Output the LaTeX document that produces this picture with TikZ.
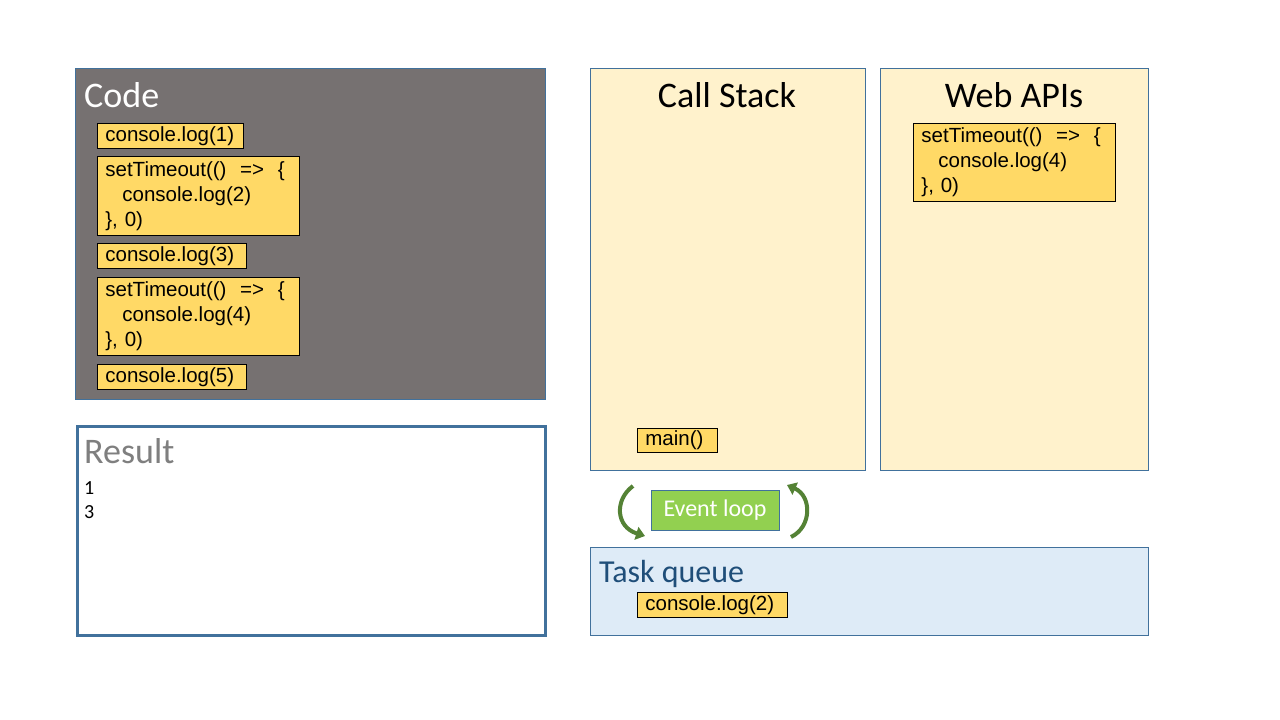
\documentclass[tikz,border=0pt]{standalone}
\usepackage{fontspec}
\setmainfont{Carlito}
\newfontfamily\codefont{Liberation Sans}
\usetikzlibrary{arrows.meta}
\definecolor{codegray}{HTML}{767171}
\definecolor{frameblue}{HTML}{41719C}
\definecolor{stackfill}{HTML}{FFF2CC}
\definecolor{queuefill}{HTML}{DEEBF7}
\definecolor{codeyellow}{HTML}{FFD966}
\definecolor{loopgreen}{HTML}{92D050}
\definecolor{arrowgreen}{HTML}{548235}
\definecolor{titleblue}{HTML}{1F4E79}
\definecolor{resultgray}{HTML}{7F7F7F}
\tikzset{
  panel/.style={draw=frameblue, line width=0.8pt, anchor=north west, inner sep=0pt},
  codebox/.style={draw=black, line width=0.8pt, fill=codeyellow, anchor=north west,
    inner xsep=8pt, inner ysep=0pt, align=left,
    font=\codefont\fontsize{20.5}{25}\selectfont},
  title/.style={inner sep=0pt, font=\fontsize{36}{40}\selectfont},
  loopbox/.style={draw=frameblue, line width=0.6pt, fill=loopgreen, text=white,
    minimum width=128pt, minimum height=40pt, inner sep=0pt, font=\fontsize{24}{28}\selectfont},
  looparrow/.style={draw=arrowgreen, line width=4pt, -{Triangle[length=9pt,width=13pt]}},
  resline/.style={inner sep=0pt, anchor=base west, font=\fontsize{20}{24}\selectfont}
}
\begin{document}
\begin{tikzpicture}[x=1pt,y=-1pt]
\useasboundingbox (0,0) rectangle (1280,720);
\fill[white] (0,0) rectangle (1280,720);

% panels
\node[panel, fill=codegray, minimum width=470pt, minimum height=331pt] (codepanel) at (75,68) {};
\node[panel, fill=white, draw=frameblue, line width=2.5pt, minimum width=468pt, minimum height=209pt] (resultpanel) at (76,425) {};
\node[panel, fill=stackfill, minimum width=275pt, minimum height=402pt] (stackpanel) at (590,68) {};
\node[panel, fill=stackfill, minimum width=268pt, minimum height=402pt] (webpanel) at (880,68) {};
\node[panel, fill=queuefill, minimum width=558pt, minimum height=88pt] (queuepanel) at (590,547) {};

% titles
\node[title, text=white, anchor=base west] (codetitle) at (84,107) {Code};
\node[title, anchor=base] (stacktitle) at (727,107) {Call Stack};
\node[title, anchor=base] (webtitle) at (1014,107) {Web APIs};
\node[title, text=resultgray, anchor=base west] (resulttitle) at (84,463) {Result};
\node[title, text=titleblue, anchor=base west, font=\fontsize{32}{36}\selectfont] (queuetitle) at (599,582) {Task queue};

% result lines
\node[resline] (res1) at (84,494) {1};
\node[resline] (res3) at (84,518) {3};

% code boxes
\node[codebox, text width=130pt, minimum height=25pt] (c1) at (97,123) {console.log(1)};
\node[codebox, text width=186pt, minimum height=79pt] (c2) at (97,156) {setTimeout(()\ \ =>\ \ \{\\\hspace*{17pt}console.log(2)\\\}, 0)};
\node[codebox, text width=133pt, minimum height=25pt] (c3) at (97,243) {console.log(3)};
\node[codebox, text width=186pt, minimum height=78pt] (c4) at (97,277) {setTimeout(()\ \ =>\ \ \{\\\hspace*{17pt}console.log(4)\\\}, 0)};
\node[codebox, text width=133pt, minimum height=25pt] (c5) at (97,364) {console.log(5)};

\node[codebox, text width=186pt, minimum height=78pt] (w4) at (913,123) {setTimeout(()\ \ =>\ \ \{\\\hspace*{17pt}console.log(4)\\\}, 0)};
\node[codebox, text width=64pt, minimum height=24pt] (mainfn) at (637,428) {main()};
\node[codebox, text width=134pt, minimum height=25pt] (q2) at (637,592) {console.log(2)};

% event loop
\node[loopbox] (loop) at (715,510) {Event loop};
\coordinate (la) at (633,486);
\coordinate (lb) at (645,536);
\coordinate (ra) at (791,537);
\coordinate (rb) at (787,485);
\draw[looparrow] (la) .. controls (614,500) and (616,527) .. (lb);
\draw[looparrow] (ra) .. controls (812,527) and (812,496) .. (rb);
\end{tikzpicture}
\end{document}
